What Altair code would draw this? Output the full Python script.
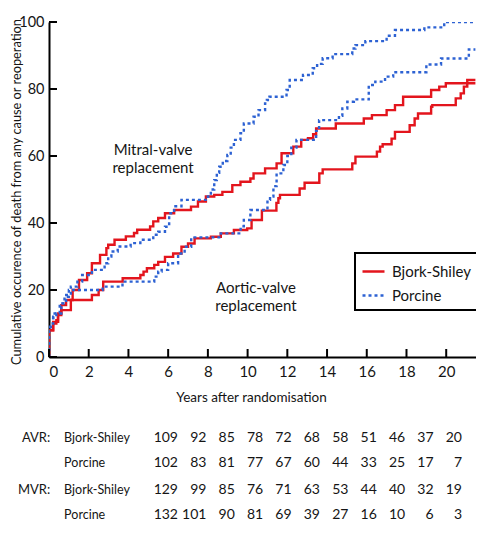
import altair as alt
import pandas as pd

# ---- Step curves: (years, cumulative %) — value holds from that time onward ----
mvr_bs_t = [0, 0, 0.21, 0.46, 0.62, 0.86, 1.19, 1.51, 1.92, 2.16, 2.57, 2.89, 2.98, 3.3, 3.87, 4.28, 4.44,
            5.09, 5.25, 5.5, 5.84, 6.3, 7.15, 7.5, 7.9, 8.32, 8.73, 9.23, 9.64, 10.14, 10.3, 10.88, 11.46,
            11.71, 12.3, 12.7, 13.04, 13.3, 13.45, 14.44, 15.85, 16.26, 17.0, 17.42, 17.83, 19.24, 19.65,
            19.98, 21.47]
mvr_bs_v = [0, 8, 10.5, 13, 15.5, 17, 20, 23, 25, 28, 30.5, 32.5, 33.5, 35, 36, 37, 38,
            39, 40.5, 41.5, 42.9, 43.9, 44.9, 46.4, 47.9, 48.4, 49.3, 51.3, 52.3, 53.3, 54.8, 56.3, 57.8,
            60.8, 62.8, 64.8, 65.3, 66.5, 68.2, 69.7, 71.2, 72.2, 73.7, 75.2, 77.7, 79.7, 80.7,
            81.7, 81.7]

mvr_p_t = [0, 0, 0.21, 0.54, 0.78, 1.1, 1.43, 1.67, 2.16, 2.8, 2.98, 3.14, 3.46, 4.11, 4.6, 5.25, 5.5,
           5.84, 6.05, 6.3, 6.67, 8.0, 8.15, 8.32, 8.45, 8.57, 8.75, 8.98, 9.15, 9.31, 9.64, 9.81, 10.3,
           10.55, 10.88, 10.97, 11.1, 11.96, 12.12, 12.79, 13.28, 13.5, 13.78, 14.28, 15.27, 15.43, 15.93,
           17.0, 17.42, 18.9, 19.9, 21.47]
mvr_p_v = [0, 9, 13, 16, 18.5, 21, 22.5, 24.5, 26, 28, 30, 31.5, 33, 34, 35, 36.5, 37.4,
           38.9, 42.9, 45, 46.9, 47.9, 50, 52.8, 55, 56.8, 58.5, 60.3, 62.5, 64.8, 66.8, 69.7, 71.7,
           73.7, 75.7, 76.7, 77.7, 79.7, 82.7, 84.2, 86.2, 87.5, 89.2, 90.4, 92.1, 93.1, 94.3,
           95.9, 97.6, 98.4, 100, 100]

avr_bs_t = [0, 0, 0.21, 0.37, 0.45, 0.62, 1.1, 2.16, 2.5, 2.73, 3.71, 4.6, 4.76, 4.93, 5.3, 5.5, 5.84,
            6.25, 6.67, 7.0, 7.33, 8.15, 8.65, 9.31, 9.98, 10.2, 10.72, 11.45, 11.55, 11.63, 12.62, 12.87,
            13.61, 13.78, 15.27, 15.43, 16.51, 16.67, 16.8, 17.25, 17.42, 18.16, 18.41, 18.58, 19.24, 19.3,
            20.48, 20.73, 20.89, 21.06, 21.47]
avr_bs_v = [0, 8, 10, 11, 12.5, 14, 17, 18.5, 20, 22.5, 23.5, 24.5, 25.5, 26.5, 27.5, 28.4, 29.9,
            30.9, 32.9, 33.9, 35.4, 35.9, 36.9, 37.9, 38.4, 40.9, 43.7, 46, 47.4, 48.4, 50.3, 52,
            54.8, 56, 57.8, 59.8, 61.3, 62.8, 63.5, 65.2, 67.2, 69.2, 71.2, 72.7, 74.7, 75.2,
            77.2, 78.7, 80.7, 82.7, 82.7]

avr_p_t = [0, 0, 0.08, 0.21, 0.37, 0.62, 0.86, 1.0, 2.7, 3.7, 5.3, 5.5, 5.67, 6.0, 6.5, 6.83, 7.16,
           8.65, 9.65, 9.81, 10.14, 11.0, 11.13, 11.3, 11.46, 11.8, 12.0, 12.2, 12.46, 13.45, 13.6, 14.6,
           14.77, 15.02, 15.35, 16.1, 16.43, 16.92, 17.33, 19.0, 19.74, 21.14, 21.47]
avr_p_v = [0, 8, 10, 12, 13, 16, 18, 20, 21, 22.5, 24, 25.5, 26, 28, 30.9, 32.9, 35.7,
           36.9, 39, 40.9, 43.9, 46.9, 47.9, 51, 54.8, 57.3, 60, 62.5, 64.8, 67.5, 70.7, 72,
           74.2, 76.2, 76.9, 81.2, 82.2, 83.7, 85, 87.3, 89.1, 91.8, 91.8]

valves = ["Bjork-Shiley", "Porcine"]
x_ticks = [0, 2, 4, 6, 8, 10, 12, 14, 16, 18, 20]
y_ticks = [0, 20, 40, 60, 80, 100]

# ---- numbers at risk table ----
row_group = ["AVR:", "", "MVR:", ""]
row_arm = ["Bjork-Shiley", "Porcine", "Bjork-Shiley", "Porcine"]
avr_bs_n = [109, 92, 85, 78, 72, 68, 58, 51, 46, 37, 20]
avr_p_n = [102, 83, 81, 77, 67, 60, 44, 33, 25, 17, 7]
mvr_bs_n = [129, 99, 85, 76, 71, 63, 53, 44, 40, 32, 19]
mvr_p_n = [132, 101, 90, 81, 69, 39, 27, 16, 10, 6, 3]

notes_text = ["Mitral-valve\nreplacement", "Aortic-valve\nreplacement"]
notes_t = [5.24, 10.42]
notes_v = [61.8, 20.6]

RED = "#e3151d"
BLUE = "#2d62d3"
FONT = "Lato"
TXT = "#151515"

W = 427      # plot width
H = 335      # plot height
PAD_L, PAD_T = 41, 14

rows = []
for name, valve, ts, vs in [("MVR-BS", valves[0], mvr_bs_t, mvr_bs_v),
                            ("MVR-P", valves[1], mvr_p_t, mvr_p_v),
                            ("AVR-BS", valves[0], avr_bs_t, avr_bs_v),
                            ("AVR-P", valves[1], avr_p_t, avr_p_v)]:
    for i, (t, v) in enumerate(zip(ts, vs)):
        rows.append({"curve": name, "valve": valve, "t": t, "v": v, "i": i})
curves = pd.DataFrame(rows)

xs = alt.Scale(domain=[0, 21.5], nice=False, zero=False)
ys = alt.Scale(domain=[0, 100], nice=False)

leg = dict(title=None, orient="none", legendX=306, legendY=231,
           strokeColor="black", padding=6, rowPadding=3,
           symbolType="stroke", symbolSize=484, symbolStrokeWidth=2.4,
           labelFontSize=15, labelOffset=6, labelColor=TXT)

lines = alt.Chart(curves).mark_line(interpolate="step-after", strokeWidth=2.4, clip=True).encode(
    x=alt.X("t:Q", scale=xs, title="Years after randomisation",
            axis=alt.Axis(values=x_ticks, ticks=False, grid=False, domainColor="black", domainWidth=2,
                          labelPadding=7, labelFontSize=15, titleFontSize=13.5,
                          titleX=202, titleY=40, titleBaseline="middle", titleAlign="center")),
    y=alt.Y("v:Q", scale=ys, title="Cumulative occurence of death from any cause or reoperation",
            axis=alt.Axis(values=y_ticks, ticks=False, grid=False, domainColor="black", domainWidth=2,
                          labelPadding=5, labelFontSize=14.5, titleFontSize=12.8,
                          titleX=-33, titleY=H / 2 + 2, titleAngle=270, titleBaseline="middle",
                          titleAlign="center")),
    color=alt.Color("valve:N", scale=alt.Scale(domain=valves, range=[RED, BLUE]),
                    legend=alt.Legend(**leg)),
    strokeDash=alt.StrokeDash("valve:N", scale=alt.Scale(domain=valves, range=[[1, 0], [3, 3]]),
                              legend=alt.Legend(**leg)),
    detail="curve:N",
    order="i:Q",
)

ytk = alt.Chart(pd.DataFrame({"v": y_ticks})).mark_rule(color="black", strokeWidth=2).encode(
    y=alt.Y("v:Q", scale=ys), x=alt.value(0), x2=alt.value(8))
xtk = alt.Chart(pd.DataFrame({"t": x_ticks})).mark_rule(color="black", strokeWidth=2).encode(
    x=alt.X("t:Q", scale=xs), y=alt.value(H), y2=alt.value(H - 8))

notes = alt.Chart(pd.DataFrame({"t": notes_t, "v": notes_v, "txt": notes_text})).mark_text(
    fontSize=15, lineBreak="\n", lineHeight=18, align="center", baseline="middle", color=TXT
).encode(x=alt.X("t:Q", scale=xs), y=alt.Y("v:Q", scale=ys), text="txt:N")

main = alt.layer(lines, ytk, xtk, notes)

# ---- table (own scales, placed below the plot area) ----
row_y = [0, 1, 2.09, 3.09]
counts = [avr_bs_n, avr_p_n, mvr_bs_n, mvr_p_n]
trows = []
for r in range(4):
    for k, n in enumerate(counts[r]):
        trows.append({"col": k, "row": row_y[r], "txt": str(n)})
tnum = pd.DataFrame(trows)
tlab = pd.DataFrame({"row": row_y, "grp": row_group, "arm": row_arm})

COLW = 28.4           # px per column
ROWH = 25.0           # px per row unit
x0 = -129 / COLW      # first number column's right edge 129 px right of plot origin
y0 = -416 / ROWH      # first row 416 px below plot top
tx = alt.Scale(domain=[x0, x0 + W / COLW], nice=False, zero=False)
ty = alt.Scale(domain=[y0, y0 + H / ROWH], nice=False, zero=False, reverse=True)

nums = alt.Chart(tnum).mark_text(align="right", baseline="middle", fontSize=14, color=TXT).encode(
    x=alt.X("col:Q", scale=tx, axis=None), y=alt.Y("row:Q", scale=ty, axis=None), text="txt:N")
grp = alt.Chart(tlab).transform_calculate(px="-4.5").mark_text(
    align="right", baseline="middle", fontSize=13, color=TXT).encode(
    x=alt.X("px:Q", scale=tx, axis=None), y=alt.Y("row:Q", scale=ty, axis=None), text="grp:N")
arm = alt.Chart(tlab).transform_calculate(px="-4.01").mark_text(
    align="left", baseline="middle", fontSize=12.5, color=TXT).encode(
    x=alt.X("px:Q", scale=tx, axis=None), y=alt.Y("row:Q", scale=ty, axis=None), text="arm:N")

table = alt.layer(nums, grp, arm)

chart = alt.layer(main, table).resolve_scale(x="independent", y="independent").properties(
    width=W, height=H,
    autosize=alt.AutoSizeParams(type="none"),
    padding={"left": PAD_L, "top": PAD_T, "right": 468 - PAD_L - W, "bottom": 522 - PAD_T - H},
).configure(font=FONT).configure_view(stroke=None).configure_axis(
    labelColor=TXT, titleColor=TXT, titleFontWeight="normal", labelFont=FONT, titleFont=FONT
).configure_legend(strokeWidth=2)

chart.save("out.html", embed_options={"renderer": "svg", "actions": False})
